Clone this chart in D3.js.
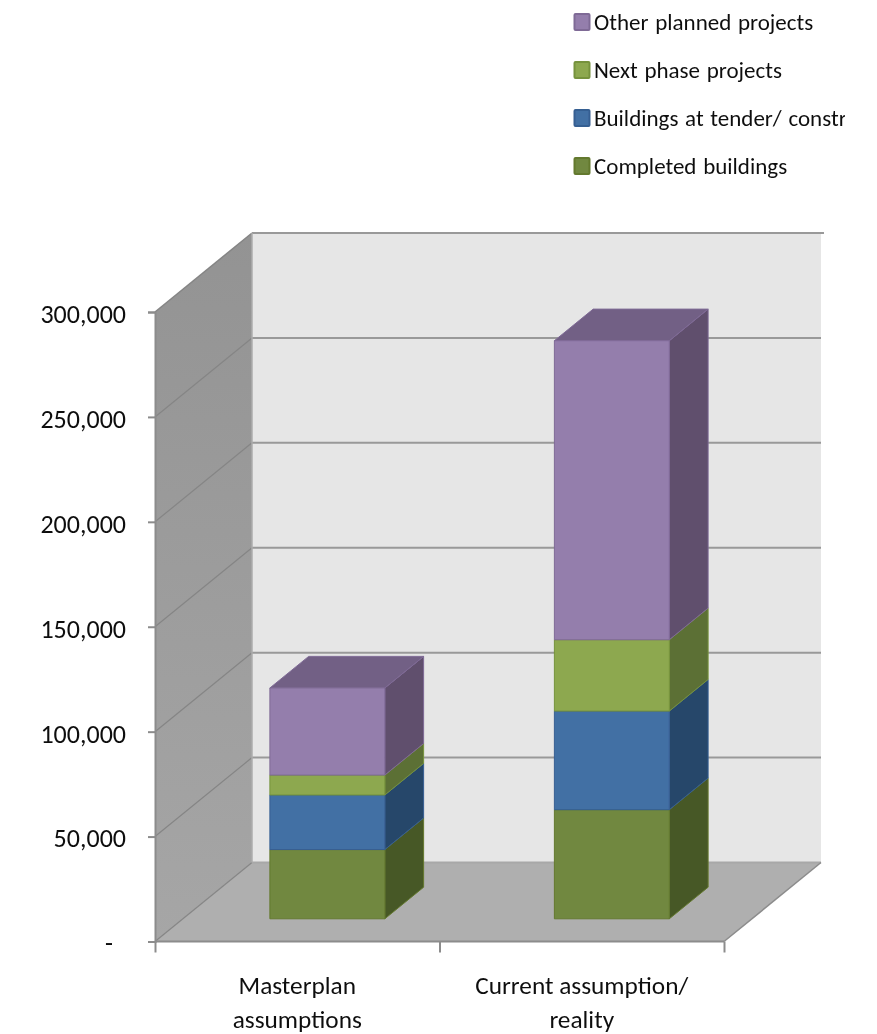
<!DOCTYPE html>
<html><head><meta charset="utf-8">
<script src="https://cdnjs.cloudflare.com/ajax/libs/d3/7.8.5/d3.min.js"></script>
<style>
html,body{margin:0;padding:0;background:#fff}
svg{display:block}
text{font-family:Carlito,Lato,"Open Sans",sans-serif;fill:#111}
</style></head><body>
<svg id="c" width="877" height="1034"></svg>
<script>
const categories = [["Masterplan","assumptions"],["Current assumption/","reality"]];
const seriesNames = ["Completed buildings","Buildings at tender/ construction","Next phase projects","Other planned projects"];
const completed = [33000, 52000];
const tender = [26000, 47000];
const nextPhase = [9500, 34000];
const otherPlanned = [41500, 142500];
const tickValues = [0,50000,100000,150000,200000,250000,300000];
const frontColors = ["#71883f","#426fa4","#8da84f","#947eac"];
const sideColors = ["#475826","#26476b","#5c7036","#604f6d"];
const edgeColors = ["#64792f","#365f92","#76923c","#7f6a96"];
const topColor = "#726085";

const svg = d3.select("#c");
const left=155,right=724,base=941.5,topY=312;
const depthX=97,depthY=79;
const y = d3.scaleLinear().domain([0,300000]).range([base,topY]);
const x = d3.scaleBand().domain(categories.map(c=>c.join(" "))).range([left,right]);
const pt=(px,py,t)=>[px+t*depthX,py-t*depthY];
const poly=(g,pts,fill,stroke)=>g.append("polygon").attr("points",pts.map(p=>p.join(",")).join(" "))
  .attr("fill",fill).attr("stroke",stroke||"none").attr("stroke-width",stroke?1:0);
const defs = svg.append("defs");
defs.append("filter").attr("id","soft").attr("x",0).attr("y",0).attr("width",1).attr("height",1)
  .attr("filterUnits","objectBoundingBox")
  .append("feGaussianBlur").attr("stdDeviation",0.5);
const root = svg.append("g").attr("filter","url(#soft)");
root.append("rect").attr("width",877).attr("height",1034).attr("fill","#fff");

// walls
poly(root,[pt(left,base,1),[left+depthX,y(300000)-depthY],[right+depthX,y(300000)-depthY],pt(right,base,1)],"#e6e6e6");
const grad = defs.append("linearGradient").attr("id","wall").attr("x1",0).attr("x2",0).attr("y1",0).attr("y2",1);
grad.append("stop").attr("offset","0").attr("stop-color","#939393");
grad.append("stop").attr("offset","1").attr("stop-color","#a6a6a6");
poly(root,[[left,y(0)],pt(left,y(0),1),pt(left,y(300000),1),[left,y(300000)]],"url(#wall)");
poly(root,[[left,y(0)],pt(left,y(0),1),pt(right,y(0),1),[right,y(0)]],"#afafaf");

// gridlines
tickValues.forEach(v=>{
  const a=pt(left,y(v),0),b=pt(left,y(v),1),c=pt(right,y(v),1);
  root.append("line").attr("x1",a[0]).attr("y1",a[1]).attr("x2",b[0]).attr("y2",b[1]).attr("stroke","#858585").attr("stroke-width",v===300000?1.5:1.2);
  root.append("line").attr("x1",b[0]).attr("y1",b[1]).attr("x2",v===300000?c[0]+3:c[0]).attr("y2",c[1]).attr("stroke",v===0?"#a8a8a8":"#999").attr("stroke-width",2);
});
root.append("line").attr("x1",pt(left,0,1)[0]).attr("x2",pt(left,0,1)[0]).attr("y1",pt(left,y(300000),1)[1]).attr("y2",pt(left,y(0),1)[1]).attr("stroke","#adadad").attr("stroke-width",1.5);
root.append("line").attr("x1",right).attr("y1",y(0)).attr("x2",right+depthX).attr("y2",y(0)-depthY).attr("stroke","#8c8c8c").attr("stroke-width",1.5);

// axes
const yAxis = d3.axisLeft(y).tickValues(tickValues).tickSize(7).tickPadding(0)
  .tickFormat(d=>d===0?"-":d3.format(",")(d));
const gy = root.append("g").attr("transform",`translate(${left},0)`).call(yAxis);
gy.selectAll("path,line").attr("stroke","#8c8c8c").attr("stroke-width",2);
gy.selectAll("text").attr("x",-29).attr("dy","0.4em").attr("font-size",26).attr("text-anchor","end")
  .filter(d=>d===0).attr("x",-42);
const xAxis = d3.axisBottom(d3.scalePoint().domain(["a","b","c"]).range([left,right])).tickSize(11).tickFormat("");
const gx = root.append("g").attr("transform",`translate(0,${base})`).call(xAxis);
gx.selectAll("path,line").attr("stroke","#8c8c8c").attr("stroke-width",2);
gx.select("path").attr("d",`M${left},0H${right}`);

// bars
const tFront=0.3,tBack=0.7,barShare=0.404,nudge=1;
const stackRows = categories.map((c,i)=>({key:c.join(" "),s0:completed[i],s1:tender[i],s2:nextPhase[i],s3:otherPlanned[i]}));
const stacked = d3.stack().keys(["s0","s1","s2","s3"])(stackRows);
stackRows.forEach((row,i)=>{
  const bw=x.bandwidth()*barShare;
  const x0=x(row.key)+(x.bandwidth()-bw)/2, x1=x0+bw;
  const g=root.append("g").attr("transform",`translate(${nudge},${nudge})`);
  stacked.forEach((layer,k)=>{
    const [v0,v1]=layer[i];
    const A=pt(x1,y(v0),tFront),B=pt(x1,y(v1),tFront),C=pt(x1,y(v1),tBack),D=pt(x1,y(v0),tBack);
    poly(g,[A,B,C,D],sideColors[k],edgeColors[k]);
    if(k===3){
      poly(g,[pt(x0,y(v1),tFront),pt(x1,y(v1),tFront),pt(x1,y(v1),tBack),pt(x0,y(v1),tBack)],topColor,"#7f6a96");
    }
    poly(g,[pt(x0,y(v0),tFront),pt(x1,y(v0),tFront),pt(x1,y(v1),tFront),pt(x0,y(v1),tFront)],frontColors[k],edgeColors[k]);
  });
});

// category labels
const midX=d=>x(d.join(" "))+x.bandwidth()/2;
categories.forEach(c=>{
  c.forEach((line,j)=>{
    root.append("text").attr("x",midX(c)).attr("y",994+j*33.5).attr("text-anchor","middle").attr("font-size",25.3).text(line);
  });
});

// legend (clipped on the right, as in the source)
defs.append("clipPath").attr("id","lg").append("rect").attr("x",560).attr("y",0).attr("width",285).attr("height",190);
const legend=root.append("g").attr("clip-path","url(#lg)");
const legendY=d3.scalePoint().domain(d3.range(4)).range([22,166]);
[3,2,1,0].forEach((k,i)=>{
  const cy=legendY(i);
  legend.append("rect").attr("x",574.5).attr("y",cy-8).attr("width",15).attr("height",16).attr("rx",1)
    .attr("fill",frontColors[k]).attr("stroke",edgeColors[k]).attr("stroke-width",2);
  legend.append("text").attr("x",594).attr("y",cy+8).attr("font-size",23).attr("word-spacing",1.5).text(seriesNames[k]);
});
</script>
</body></html>
